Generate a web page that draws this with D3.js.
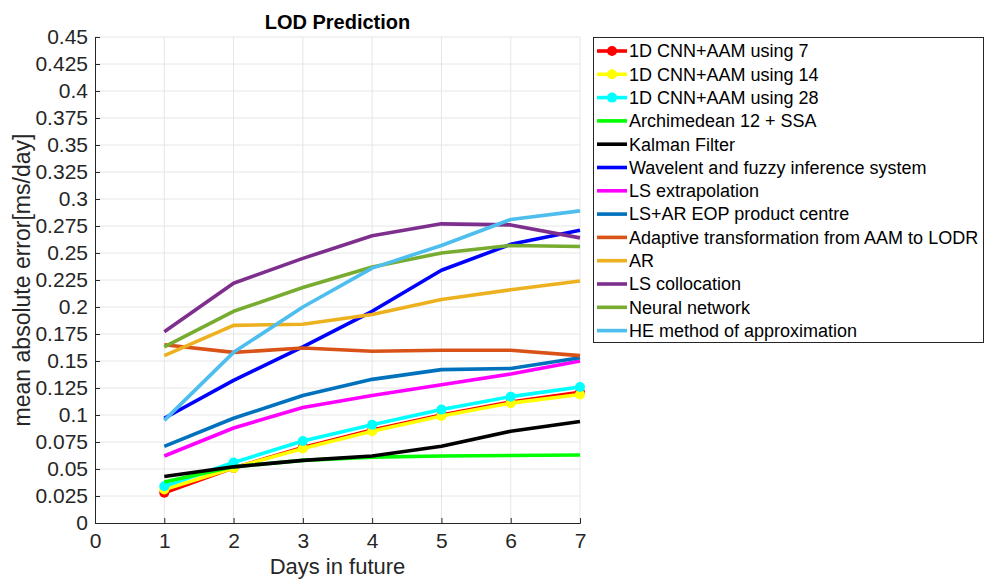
<!DOCTYPE html>
<html>
<head>
<meta charset="utf-8">
<script src="https://cdn.jsdelivr.net/npm/d3@7"></script>
<style>
  html, body { margin: 0; padding: 0; background: #fff; }
  svg { display: block; font-family: "Liberation Sans", Arial, sans-serif; }
</style>
</head>
<body>
<svg id="chart" width="986" height="580"></svg>
<script>
// Forecast horizon (days) and mean absolute error of LOD prediction [ms/day]
const days = [1, 2, 3, 4, 5, 6, 7];
const xTicks = [0, 1, 2, 3, 4, 5, 6, 7];
const yTicks = d3.range(0, 0.4501, 0.025);

const cnn7        = [0.028, 0.051, 0.070, 0.086, 0.100, 0.112, 0.121];
const cnn14       = [0.031, 0.051, 0.069, 0.085, 0.099, 0.111, 0.119];
const cnn28       = [0.034, 0.056, 0.076, 0.091, 0.105, 0.117, 0.126];
const archimedean = [0.038, 0.052, 0.058, 0.061, 0.062, 0.0625, 0.063];
const kalman      = [0.043, 0.052, 0.058, 0.062, 0.071, 0.085, 0.094];
const wavelet     = [0.097, 0.132, 0.163, 0.196, 0.234, 0.258, 0.271];
const lsExtrap    = [0.062, 0.088, 0.107, 0.118, 0.128, 0.138, 0.150];
const lsAr        = [0.071, 0.097, 0.118, 0.133, 0.142, 0.143, 0.153];
const adaptive    = [0.165, 0.158, 0.162, 0.159, 0.160, 0.160, 0.155];
const arModel     = [0.155, 0.183, 0.184, 0.193, 0.207, 0.216, 0.224];
const lsColloc    = [0.177, 0.222, 0.245, 0.266, 0.277, 0.276, 0.264];
const neuralNet   = [0.163, 0.196, 0.218, 0.237, 0.250, 0.257, 0.256];
const heMethod    = [0.095, 0.158, 0.200, 0.236, 0.257, 0.281, 0.289];

const seriesNames = [
  "1D CNN+AAM using 7", "1D CNN+AAM using 14", "1D CNN+AAM using 28",
  "Archimedean 12 + SSA", "Kalman Filter", "Wavelent and fuzzy inference system",
  "LS extrapolation", "LS+AR EOP product centre", "Adaptive transformation from AAM to LODR",
  "AR", "LS collocation", "Neural network", "HE method of approximation"
];
const seriesValues = [cnn7, cnn14, cnn28, archimedean, kalman, wavelet, lsExtrap,
  lsAr, adaptive, arModel, lsColloc, neuralNet, heMethod];
const seriesColors = ["#ff0000", "#ffff00", "#00ffff", "#00ff00", "#000000", "#0000ff",
  "#ff00ff", "#0072bd", "#d95319", "#edb120", "#7e2f8e", "#77ac30", "#4dbeee"];
const withMarkers = [true, true, true, false, false, false, false, false, false, false, false, false, false];

const series = seriesNames.map((name, i) => ({
  name, color: seriesColors[i], marker: withMarkers[i],
  points: days.map((d, j) => ({ x: d, y: seriesValues[i][j] }))
}));

const svg = d3.select("#chart");
const plotLeft = 95, plotRight = 580, plotTop = 37, plotBottom = 523;

const x = d3.scaleLinear().domain([0, 7]).range([plotLeft, plotRight]);
const y = d3.scaleLinear().domain([0, 0.45]).range([plotBottom, plotTop]);

// grid
const grid = svg.append("g").attr("stroke", "#e6e6e6").attr("stroke-width", 1);
grid.selectAll("line.gx").data(xTicks.slice(1)).join("line")
  .attr("x1", d => x(d)).attr("x2", d => x(d)).attr("y1", plotTop).attr("y2", plotBottom);
grid.selectAll("line.gy").data(yTicks.slice(1)).join("line")
  .attr("x1", plotLeft).attr("x2", plotRight).attr("y1", d => y(d)).attr("y2", d => y(d));

// axes
const fmt = d => d3.format("")(+d.toFixed(3));
const xAxis = svg.append("g").attr("transform", `translate(0,${plotBottom})`)
  .call(d3.axisBottom(x).tickValues(xTicks).tickSize(-5).tickPadding(10).tickFormat(fmt));
const yAxis = svg.append("g").attr("transform", `translate(${plotLeft},0)`)
  .call(d3.axisLeft(y).tickValues(yTicks).tickSize(-5).tickPadding(7).tickFormat(fmt));
[xAxis, yAxis].forEach(a => {
  a.select(".domain").attr("stroke", "#262626").attr("stroke-width", 1);
  a.selectAll(".tick line").attr("stroke", "#262626");
  a.selectAll(".tick text").attr("fill", "#262626").attr("font-size", 21)
    .attr("font-family", "Liberation Sans, Arial, sans-serif");
});

// lines
const line = d3.line().x(d => x(d.x)).y(d => y(d.y));
const plot = svg.append("g");
series.forEach(s => {
  plot.append("path").datum(s.points).attr("d", line)
    .attr("fill", "none").attr("stroke", s.color).attr("stroke-width", 3.6)
    .attr("stroke-linejoin", "round");
  if (s.marker) {
    plot.selectAll(null).data(s.points).join("circle")
      .attr("cx", d => x(d.x)).attr("cy", d => y(d.y)).attr("r", 5)
      .attr("fill", s.color);
  }
});

// title and axis labels
svg.append("text").attr("x", (plotLeft + plotRight) / 2).attr("y", 29)
  .attr("text-anchor", "middle").attr("font-weight", "bold").attr("font-size", 20)
  .attr("fill", "#000").text("LOD Prediction");
svg.append("text").attr("x", (plotLeft + plotRight) / 2).attr("y", 574)
  .attr("text-anchor", "middle").attr("font-size", 22).attr("fill", "#262626")
  .text("Days in future");
svg.append("text").attr("transform", `translate(30,${(plotTop + plotBottom) / 2}) rotate(-90)`)
  .attr("text-anchor", "middle").attr("font-size", 23).attr("fill", "#262626")
  .text("mean absolute error[ms/day]");

// legend
const lg = svg.append("g");
const lgX = 593, lgY = 37, lgW = 390, lgH = 305, rowH = 23.3;
lg.append("rect").attr("x", lgX + 0.5).attr("y", lgY + 0.5).attr("width", lgW).attr("height", lgH)
  .attr("fill", "#fff").attr("stroke", "#262626").attr("stroke-width", 1);
const rows = lg.selectAll("g.row").data(series).join("g")
  .attr("transform", (d, i) => `translate(${lgX},${lgY + 14 + i * rowH})`);
rows.append("line").attr("x1", 4).attr("x2", 34).attr("y1", 0).attr("y2", 0)
  .attr("stroke", d => d.color).attr("stroke-width", 3.6);
rows.filter(d => d.marker).append("circle").attr("cx", 19).attr("cy", 0).attr("r", 5)
  .attr("fill", d => d.color);
rows.append("text").attr("x", 36).attr("y", 0).attr("dy", "0.35em")
  .attr("font-size", 18).attr("fill", "#000").text(d => d.name);
</script>
</body>
</html>
